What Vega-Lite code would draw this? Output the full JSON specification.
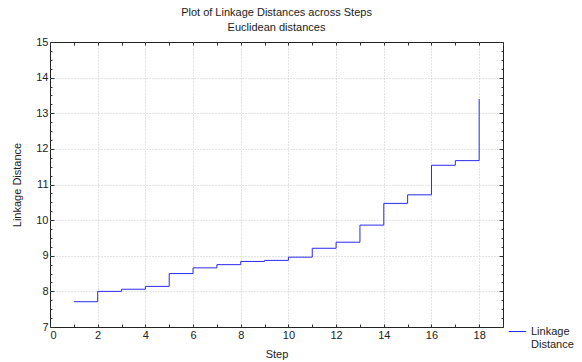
{
  "$schema": "https://vega.github.io/schema/vega-lite/v6.json",
  "width": 453,
  "height": 285,
  "autosize": {"type": "none"},
  "padding": {"left": 50, "top": 42, "right": 79, "bottom": 35},
  "background": "white",
  "title": {
    "text": ["Plot of Linkage Distances across Steps", "Euclidean distances"],
    "font": "Liberation Sans",
    "fontSize": 11,
    "fontWeight": "normal",
    "color": "#222",
    "lineHeight": 15,
    "anchor": "middle",
    "offset": 3
  },
  "config": {
    "view": {"stroke": "#222", "strokeWidth": 1},
    "font": "Liberation Sans",
    "axis": {
      "domain": false,
      "labelFont": "Liberation Sans",
      "labelFontSize": 11,
      "labelColor": "#222",
      "titleFont": "Liberation Sans",
      "titleFontSize": 11,
      "titleFontWeight": "normal",
      "titleColor": "#222",
      "tickColor": "#333",
      "tickSize": -3,
      "gridColor": "#c8c8c8",
      "gridDash": [1, 2]
    }
  },
  "data": {
    "values": [
      {"step": 1, "distance": 7.71, "series": "Linkage Distance"},
      {"step": 2, "distance": 8.0, "series": "Linkage Distance"},
      {"step": 3, "distance": 8.06, "series": "Linkage Distance"},
      {"step": 4, "distance": 8.14, "series": "Linkage Distance"},
      {"step": 5, "distance": 8.5, "series": "Linkage Distance"},
      {"step": 6, "distance": 8.66, "series": "Linkage Distance"},
      {"step": 7, "distance": 8.75, "series": "Linkage Distance"},
      {"step": 8, "distance": 8.84, "series": "Linkage Distance"},
      {"step": 9, "distance": 8.87, "series": "Linkage Distance"},
      {"step": 10, "distance": 8.96, "series": "Linkage Distance"},
      {"step": 11, "distance": 9.21, "series": "Linkage Distance"},
      {"step": 12, "distance": 9.38, "series": "Linkage Distance"},
      {"step": 13, "distance": 9.86, "series": "Linkage Distance"},
      {"step": 14, "distance": 10.47, "series": "Linkage Distance"},
      {"step": 15, "distance": 10.71, "series": "Linkage Distance"},
      {"step": 16, "distance": 11.54, "series": "Linkage Distance"},
      {"step": 17, "distance": 11.67, "series": "Linkage Distance"},
      {"step": 18, "distance": 13.4, "series": "Linkage Distance"}
    ]
  },
  "resolve": {"scale": {"x": "independent", "y": "independent"}, "axis": {"x": "independent", "y": "independent"}},
  "layer": [
    {
      "mark": {"type": "line", "interpolate": "step-after", "strokeWidth": 1, "clip": true},
      "encoding": {
        "x": {
          "field": "step", "type": "quantitative",
          "scale": {"domain": [0, 19], "nice": false, "zero": false},
          "axis": {
            "orient": "bottom",
            "title": "Step",
            "titleY": 21,
            "format": "d",
            "values": [0,1,2,3,4,5,6,7,8,9,10,11,12,13,14,15,16,17,18,19],
            "labelExpr": "datum.value % 2 === 0 ? datum.label : ''",
            "gridOpacity": {"condition": {"test": "datum.value % 2 === 0 && datum.value > 0", "value": 1}, "value": 0},
            "labelPadding": 5
          }
        },
        "y": {
          "field": "distance", "type": "quantitative",
          "scale": {"domain": [7, 15], "nice": false, "zero": false},
          "axis": {
            "orient": "left",
            "title": "Linkage Distance",
            "titleX": -28,
            "format": ".0f",
            "values": [7,7.25,7.5,7.75,8,8.25,8.5,8.75,9,9.25,9.5,9.75,10,10.25,10.5,10.75,11,11.25,11.5,11.75,12,12.25,12.5,12.75,13,13.25,13.5,13.75,14,14.25,14.5,14.75,15],
            "labelExpr": "datum.value % 1 === 0 ? datum.label : ''",
            "gridOpacity": {"condition": {"test": "datum.value % 1 === 0 && datum.value > 7 && datum.value < 15", "value": 1}, "value": 0},
            "tickSize": {"condition": {"test": "datum.value % 1 === 0", "value": -4}, "value": -2},
            "labelPadding": 6
          }
        },
        "color": {
          "field": "series", "type": "nominal",
          "scale": {"range": ["#2a2af0"]},
          "legend": {
            "title": null,
            "orient": "none",
            "legendX": 458,
            "legendY": 280,
            "symbolType": "stroke",
            "symbolStrokeWidth": 1,
            "symbolSize": 300,
            "labelFont": "Liberation Sans",
            "labelFontSize": 11,
            "labelColor": "#222",
            "labelExpr": "['Linkage', 'Distance']",
            "labelAlign": "left"
          }
        }
      }
    },
    {
      "mark": {"type": "line", "opacity": 0},
      "encoding": {
        "x": {
          "field": "step", "type": "quantitative",
          "scale": {"domain": [0, 19], "nice": false, "zero": false},
          "axis": {
            "orient": "top", "title": null, "labels": false, "grid": false,
            "values": [0,1,2,3,4,5,6,7,8,9,10,11,12,13,14,15,16,17,18,19]
          }
        },
        "y": {
          "field": "distance", "type": "quantitative",
          "scale": {"domain": [7, 15], "nice": false, "zero": false},
          "axis": {
            "orient": "right", "title": null, "labels": false, "grid": false,
            "values": [7,7.25,7.5,7.75,8,8.25,8.5,8.75,9,9.25,9.5,9.75,10,10.25,10.5,10.75,11,11.25,11.5,11.75,12,12.25,12.5,12.75,13,13.25,13.5,13.75,14,14.25,14.5,14.75,15],
            "tickSize": {"condition": {"test": "datum.value % 1 === 0", "value": -4}, "value": -2}
          }
        }
      }
    }
  ]
}
